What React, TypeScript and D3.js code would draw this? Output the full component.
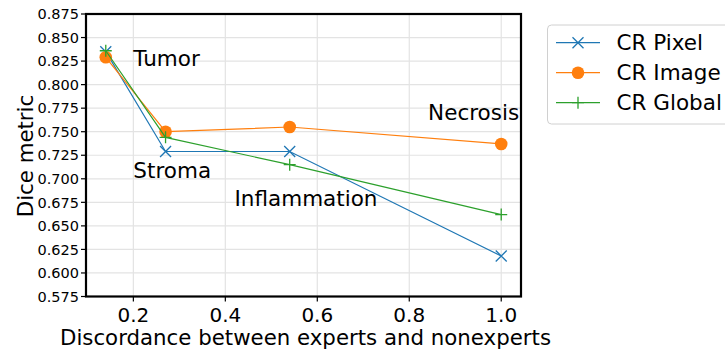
import React from "react";
import * as d3 from "d3";

// Discordance levels (x) and per-class Dice scores for each consistency-regularisation variant
const discordance = [0.14, 0.27, 0.54, 1.0];
const crPixel = [0.835, 0.729, 0.729, 0.618];
const crImage = [0.829, 0.750, 0.755, 0.737];
const crGlobal = [0.836, 0.744, 0.715, 0.662];

const seriesNames = ["CR Pixel", "CR Image", "CR Global"];
const xTicks = [0.2, 0.4, 0.6, 0.8, 1.0];
const yTicks = [0.575, 0.6, 0.625, 0.65, 0.675, 0.7, 0.725, 0.75, 0.775, 0.8, 0.825, 0.85, 0.875];

const classLabels = ["Tumor", "Stroma", "Inflammation", "Necrosis"];
const classLabelX = [0.2, 0.2, 0.42, 0.841];
const classLabelY = [0.82, 0.7005, 0.671, 0.7624];

const W = 725;
const H = 355;
const FONT = "'DejaVu Sans', sans-serif";

const plot = { left: 86, right: 521, top: 14, bottom: 296.5 };

const x = d3.scaleLinear().domain([0.097, 1.043]).range([plot.left, plot.right]);
const y = d3.scaleLinear().domain([0.575, 0.875]).range([plot.bottom, plot.top]);

const colors = ["#1f77b4", "#ff7f0e", "#2ca02c"];
const values = [crPixel, crImage, crGlobal];

function Marker({ kind, cx, cy, color }: { kind: number; cx: number; cy: number; color: string }) {
  if (kind === 0) {
    const r = 5.5;
    return (
      <path
        d={`M${cx - r},${cy - r}L${cx + r},${cy + r}M${cx - r},${cy + r}L${cx + r},${cy - r}`}
        stroke={color}
        strokeWidth={1.3}
        fill="none"
      />
    );
  }
  if (kind === 1) {
    return <circle cx={cx} cy={cy} r={6.3} fill={color} />;
  }
  const r = 6;
  return (
    <path
      d={`M${cx - r},${cy}L${cx + r},${cy}M${cx},${cy - r}L${cx},${cy + r}`}
      stroke={color}
      strokeWidth={1.3}
      fill="none"
    />
  );
}

export default function App() {
  const line = d3
    .line<[number, number]>()
    .x((d) => x(d[0]))
    .y((d) => y(d[1]));

  const legendRows = [42.7, 72.7, 102.7];

  return (
    <svg
      width={W}
      height={H}
      style={{ position: "absolute", left: 0, top: 0, background: "#fff" }}
      fontFamily={FONT}
    >
      {/* grid */}
      <g stroke="#e3e3e3" strokeWidth={1.2}>
        {xTicks.map((t) => (
          <line key={"gx" + t} x1={x(t)} x2={x(t)} y1={plot.top} y2={plot.bottom} />
        ))}
        {yTicks.map((t) => (
          <line key={"gy" + t} x1={plot.left} x2={plot.right} y1={y(t)} y2={y(t)} />
        ))}
      </g>

      {/* series */}
      {values.map((vals, i) => {
        const pts = discordance.map((d, j) => [d, vals[j]] as [number, number]);
        return (
          <g key={seriesNames[i]}>
            <path d={line(pts) || ""} fill="none" stroke={colors[i]} strokeWidth={1.2} />
            {pts.map((p, j) => (
              <Marker key={j} kind={i} cx={x(p[0])} cy={y(p[1])} color={colors[i]} />
            ))}
          </g>
        );
      })}

      {/* class annotations */}
      {classLabels.map((c, i) => (
        <text key={c} x={x(classLabelX[i])} y={y(classLabelY[i])} fontSize={21.5} fill="#000">
          {c}
        </text>
      ))}

      {/* frame */}
      <rect
        x={plot.left}
        y={plot.top}
        width={plot.right - plot.left}
        height={plot.bottom - plot.top}
        fill="none"
        stroke="#000"
        strokeWidth={2.2}
      />

      {/* y axis ticks */}
      {yTicks.map((t) => (
        <g key={"yt" + t}>
          <line x1={plot.left - 5} x2={plot.left} y1={y(t)} y2={y(t)} stroke="#000" strokeWidth={1.2} />
          <text x={plot.left - 7} y={y(t)} dy="0.36em" textAnchor="end" fontSize={14.5} fill="#000">
            {t.toFixed(3)}
          </text>
        </g>
      ))}

      {/* x axis ticks */}
      {xTicks.map((t) => (
        <g key={"xt" + t}>
          <line x1={x(t)} x2={x(t)} y1={plot.bottom} y2={plot.bottom + 5} stroke="#000" strokeWidth={1.2} />
          <text x={x(t)} y={plot.bottom + 25} textAnchor="middle" fontSize={20} fill="#000">
            {t.toFixed(1)}
          </text>
        </g>
      ))}

      {/* axis titles */}
      <text x={305.5} y={345} textAnchor="middle" fontSize={21.3} fill="#000">
        Discordance between experts and nonexperts
      </text>
      <text transform={`translate(33,156) rotate(-90)`} textAnchor="middle" fontSize={21.3} fill="#000">
        Dice metric
      </text>

      {/* legend */}
      <rect x={547.5} y={25} width={190} height={99} rx={4} fill="#fff" stroke="#d0d0d0" strokeWidth={1} />
      {seriesNames.map((n, i) => (
        <g key={"lg" + n}>
          <line x1={556} x2={600} y1={legendRows[i]} y2={legendRows[i]} stroke={colors[i]} strokeWidth={1.2} />
          <Marker kind={i} cx={578} cy={legendRows[i]} color={colors[i]} />
          <text x={616.5} y={legendRows[i]} dy="0.36em" fontSize={21.5} fill="#000">
            {n}
          </text>
        </g>
      ))}
    </svg>
  );
}
